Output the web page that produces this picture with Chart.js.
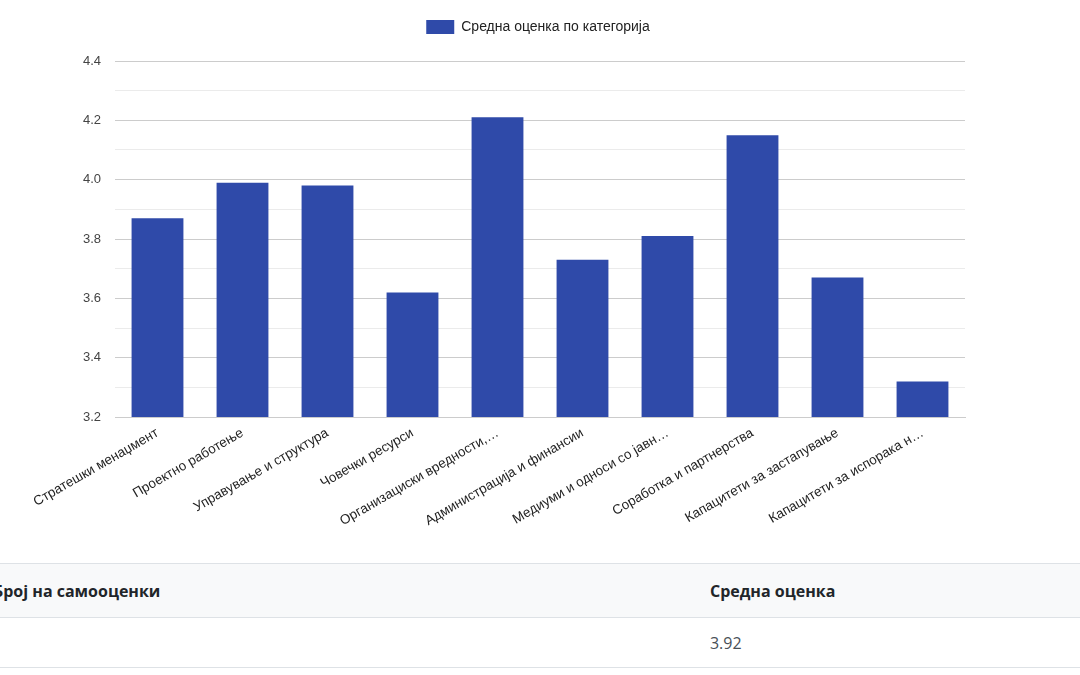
<!DOCTYPE html>
<html>
<head>
<meta charset="utf-8">
<script src="https://cdn.jsdelivr.net/npm/chart.js@4.4.1/dist/chart.umd.min.js"></script>
<style>
  html, body { margin: 0; padding: 0; background: #fff; width: 1080px; height: 675px; overflow: hidden; }
  #chart-wrap { position: absolute; left: 0; top: 0; width: 1080px; height: 545px; }
  #summary {
    position: absolute; left: -19px; top: 563px; width: 1220px;
    border-collapse: collapse;
    font-family: "Open Sans", sans-serif; font-size: 16px;
  }
  #summary th {
    text-align: left; font-weight: 700; color: #212529; background: #f8f9fa;
    height: 53px; padding: 0 12px; border-top: 1px solid #dee2e6; border-bottom: 1px solid #dee2e6;
  }
  #summary td {
    color: #495057; height: 49px; padding: 0 12px; border-bottom: 1px solid #dee2e6;
  }
</style>
</head>
<body>
<div id="chart-wrap"><canvas id="category-chart"></canvas></div>
<table id="summary">
  <thead><tr id="summary-head"></tr></thead>
  <tbody><tr id="summary-body"></tr></tbody>
</table>
<script>
const categories = [
  'Стратешки менаџмент',
  'Проектно работење',
  'Управување и структура',
  'Човечки ресурси',
  'Организациски вредности,…',
  'Администрација и финансии',
  'Медиуми и односи со јавн…',
  'Соработка и партнерства',
  'Капацитети за застапување',
  'Капацитети за испорака н…',
];
const averageScores = [3.87, 3.99, 3.98, 3.62, 4.21, 3.73, 3.81, 4.15, 3.67, 3.32];
const seriesLabel = 'Средна оценка по категорија';
const yMin = 3.2;
const yMax = 4.4;
const yStep = 0.1;

const tableHeaders = ['Број на самооценки', 'Средна оценка'];
const tableValues = ['', '3.92'];

const BAR_COLOR = '#2f4aa9';
const FONT = '"Liberation Sans", Arial, sans-serif';

// give the legend some extra room underneath it
const legendGap = {
  id: 'legendGap',
  beforeInit(chart) {
    const fit = chart.legend.fit;
    chart.legend.fit = function () {
      fit.bind(chart.legend)();
      this.height += 17;
    };
  },
};

function renderTable() {
  document.getElementById('summary-head').innerHTML = tableHeaders
    .map((h, i) => `<th style="width:${i === 0 ? 707 : 489}px">${h}</th>`).join('');
  document.getElementById('summary-body').innerHTML = tableValues
    .map(v => `<td>${v}</td>`).join('');
}

function renderChart() {
  const ctx = document.getElementById('category-chart').getContext('2d');
  new Chart(ctx, {
    type: 'bar',
    data: {
      labels: categories,
      datasets: [{
        label: seriesLabel,
        data: averageScores,
        backgroundColor: BAR_COLOR,
        borderWidth: 0,
        barPercentage: 0.61,
        categoryPercentage: 1,
        yAxisID: 'y',
      }],
    },
    plugins: [legendGap],
    options: {
      responsive: true,
      maintainAspectRatio: false,
      animation: false,
      layout: { padding: { left: 0, right: 4, top: 10, bottom: 0 } },
      plugins: {
        legend: {
          labels: {
            boxWidth: 28,
            boxHeight: 14,
            padding: 10,
            color: '#222',
            font: { family: FONT, size: 14 },
          },
        },
        tooltip: { enabled: false },
      },
      scales: {
        x: {
          grid: { display: false },
          border: { color: '#cccccc' },
          ticks: {
            color: '#222',
            font: { family: FONT, size: 13.5 },
            minRotation: 30,
            maxRotation: 30,
            autoSkip: false,
            padding: 0,
          },
          afterFit: s => { s.height = 128; },
        },
        y: {
          min: yMin,
          max: yMax,
          border: { display: false },
          grid: {
            drawTicks: false,
            color: c => (c.index % 2 === 0 ? '#cccccc' : '#ebebeb'),
          },
          ticks: {
            stepSize: yStep,
            padding: 14,
            color: '#444',
            font: { family: FONT, size: 13 },
            callback: (v, i) => (i % 2 === 0 ? Number(v).toFixed(1) : ''),
          },
          afterFit: s => { s.width = 115; },
        },
        // empty right-hand gutter so the plot ends where the reference does
        yRight: {
          position: 'right',
          min: yMin,
          max: yMax,
          border: { display: false },
          grid: { drawOnChartArea: false, drawTicks: false },
          ticks: { display: false },
          afterFit: s => { s.width = 111; },
        },
      },
    },
  });
}

renderTable();
renderChart();
</script>
</body>
</html>
